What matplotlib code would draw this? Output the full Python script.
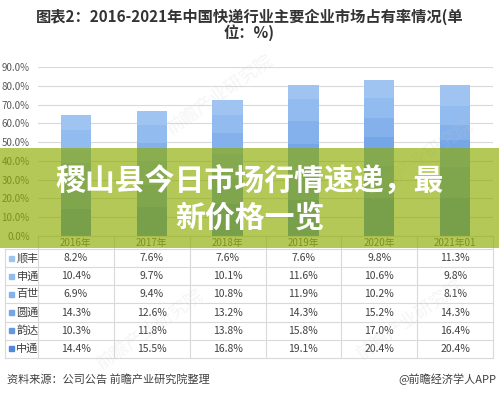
import matplotlib
matplotlib.use('Agg')
import matplotlib.pyplot as plt
from matplotlib.patches import Rectangle

plt.rcParams['font.family'] = ['Noto Sans CJK SC', 'DejaVu Sans']

years = ['2016年', '2017年', '2018年', '2019年', '2020年', '2021年Q1']
companies = ['顺丰', '申通', '百世', '圆通', '韵达', '中通']
shunfeng = [8.2, 7.6, 7.6, 7.6, 9.8, 11.3]
shentong = [10.4, 9.7, 10.1, 11.6, 10.6, 9.8]
baishi = [6.9, 9.4, 10.8, 11.9, 10.2, 8.1]
yuantong = [14.3, 12.6, 13.2, 14.3, 15.2, 14.3]
yunda = [10.3, 11.8, 13.8, 15.8, 17.0, 16.4]
zhongtong = [14.4, 15.5, 16.8, 19.1, 20.4, 20.4]
yticks = [0, 10, 20, 30, 40, 50, 60, 70, 80, 90]

series = [shunfeng, shentong, baishi, yuantong, yunda, zhongtong]
colors = ['#a0c4f2', '#92bbef', '#84b1eb', '#75a6e7', '#6399e2', '#5089da']

W, H = 499, 397


def fx(px):
    return px / W


def fy(py):
    return 1 - py / H


fig = plt.figure(figsize=(W / 100, H / 100), dpi=100)

# main bar axes
ax = fig.add_axes([fx(38), fy(236), fx(493) - fx(38), fy(67) - fy(236)])
x = list(range(len(years)))
bottom = [0] * len(years)
# stack from bottom (zhongtong) to top (shunfeng)
for vals, col in zip(series[::-1], colors[::-1]):
    ax.bar(x, vals, width=0.4, bottom=bottom, color=col, zorder=3)
    bottom = [b + v for b, v in zip(bottom, vals)]
ax.set_xlim(-0.5, len(years) - 0.5)
ax.set_ylim(0, 90)
ax.set_yticks(yticks)
ax.set_yticklabels([f'{t:.1f}%' for t in yticks], fontsize=7, color='#595959')
ax.set_xticks([])
ax.grid(axis='y', color='#d9d9d9', linewidth=0.8, zorder=0)
for s in ax.spines.values():
    s.set_visible(False)
ax.tick_params(axis='y', length=0, pad=6)

# data table
tb = fig.add_axes([fx(38), fy(358), fx(493) - fx(38), fy(236) - fy(358)])
tb.set_xlim(-0.5, len(years) - 0.5)
tb.set_ylim(358, 236)
tb.axis('off')
grid_c = '#d9d9d9'
row_top = 249
row_h = (358 - row_top) / len(companies)
xl = -0.5 - 33 / 75.8
tb.plot([-0.5, len(years) - 0.5], [236, 236], color=grid_c, lw=0.8, clip_on=False)
for i in range(len(companies) + 1):
    yy = row_top + i * row_h
    tb.plot([xl, len(years) - 0.5], [yy, yy], color=grid_c, lw=0.8, clip_on=False)
tb.plot([xl, xl], [row_top, 358], color=grid_c, lw=0.8, clip_on=False)
for j in range(len(years) + 1):
    tb.plot([j - 0.5, j - 0.5], [236, 358], color=grid_c, lw=0.8, clip_on=False)
for j, yr in enumerate(years):
    tb.text(j, 243, yr.replace('Q1', '01'), ha='center', va='center',
            fontsize=7, color='#595959')
for i, (name, vals, col) in enumerate(zip(companies, series, colors)):
    yc = row_top + (i + 0.5) * row_h
    tb.add_patch(Rectangle((xl + 0.05, yc - 2.5), 0.07, 5, color=col, clip_on=False))
    tb.text(xl + 0.15, yc, name, ha='left', va='center', fontsize=8,
            color='#404040', clip_on=False)
    for j, v in enumerate(vals):
        tb.text(j, yc, f'{v:.1f}%', ha='center', va='center', fontsize=7.5,
                color='#404040')

# title
fig.text(0.5, fy(17), '图表2：2016-2021年中国快递行业主要企业市场占有率情况(单',
         ha='center', va='center', fontsize=11, fontweight='bold', color='#333333')
fig.text(0.5, fy(33), '位：%)', ha='center', va='center', fontsize=11,
         fontweight='bold', color='#333333')

# faint watermarks
for (wx, wy) in [(220, 95), (420, 160), (150, 330), (410, 320)]:
    fig.text(fx(wx), fy(wy), '前瞻产业研究院', ha='center', va='center',
             fontsize=13, rotation=35, color='#c8c8c8', alpha=0.18)

# footer
fig.text(fx(7), fy(379), '资料来源：公司公告 前瞻产业研究院整理', ha='left',
         va='center', fontsize=8, color='#404040')
fig.text(fx(496), fy(379), '@前瞻经济学人APP', ha='right', va='center',
         fontsize=8, color='#404040')

# green banner overlay
fig.patches.append(Rectangle((0, fy(248)), 1, fy(148) - fy(248),
                             transform=fig.transFigure, facecolor='#8eac00',
                             alpha=0.66, edgecolor='none', zorder=5))
fig.text(0.5, fy(182), '稷山县今日市场行情速递，最', ha='center', va='center',
         fontsize=21.5, fontweight='bold', color='white', zorder=6)
fig.text(0.5, fy(218), '新价格一览', ha='center', va='center',
         fontsize=21.5, fontweight='bold', color='white', zorder=6)

fig.savefig('out.png', dpi=100)
